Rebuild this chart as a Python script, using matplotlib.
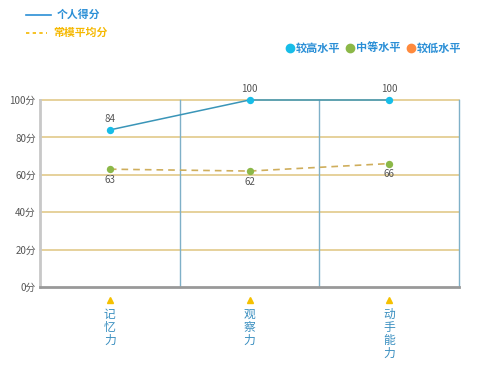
import matplotlib
matplotlib.use('Agg')
import matplotlib.pyplot as plt
from matplotlib.lines import Line2D

plt.rcParams['font.family'] = ['Noto Sans CJK SC', 'DejaVu Sans']

categories = ['记忆力', '观察力', '动手能力']
personal = [84, 100, 100]
norm = [63, 62, 66]
y_ticks = [0, 20, 40, 60, 80, 100]
y_labels = ['0分', '20分', '40分', '60分', '80分', '100分']
level_names = ['较高水平', '中等水平', '较低水平']
level_colors = ['#17bde8', '#8cb848', '#ff8a3d']


def main():
    fig = plt.figure(figsize=(4.85, 3.72), dpi=100)
    ax = fig.add_axes([40 / 485, 1 - 287 / 372, 419 / 485, 187 / 372])

    xs = [i + 0.5 for i in range(len(categories))]
    ax.set_xlim(0, len(categories))
    ax.set_ylim(0, 100)

    # gold horizontal grid
    for t in y_ticks[1:]:
        ax.axhline(t, color='#e2c98a', lw=1.2, zorder=1, clip_on=False)
    # blue separators
    for i in range(1, len(categories) + 1):
        ax.axvline(i, color='#7fb0c8', lw=1.0, zorder=1, clip_on=False)

    ax.plot(xs, personal, color='#3a95b8', lw=1.1, zorder=3, clip_on=False)
    ax.plot(xs, norm, color='#cfae5c', lw=1.2, ls=(0, (4, 3)), zorder=3)
    ax.scatter(xs, personal, s=28, color=level_colors[0], zorder=4, lw=0,
               clip_on=False)
    ax.scatter(xs, norm, s=28, color=level_colors[1], zorder=4, lw=0)

    for x, v in zip(xs, personal):
        ax.annotate(str(v), (x, v), xytext=(0, 4), textcoords='offset points',
                    ha='center', va='bottom', fontsize=7, color='#555555')
    for x, v in zip(xs, norm):
        ax.annotate(str(v), (x, v), xytext=(0, -4), textcoords='offset points',
                    ha='center', va='top', fontsize=7, color='#555555')

    ax.set_yticks(y_ticks)
    ax.set_yticklabels(y_labels, fontsize=7, color='#555555')
    ax.tick_params(axis='y', length=0, pad=3)
    ax.set_xticks([])
    for s in ['top', 'right']:
        ax.spines[s].set_visible(False)
    ax.spines['left'].set_color('#c8c8c8')
    ax.spines['left'].set_linewidth(2)
    ax.spines['bottom'].set_color('#999999')
    ax.spines['bottom'].set_linewidth(2)

    # x category labels: triangle + vertical text
    for x, name in zip(xs, categories):
        ax.plot([x], [-7], marker='^', color='#f5c000', ms=5,
                clip_on=False, zorder=5)
        ax.text(x, -11, '\n'.join(name), ha='center', va='top', fontsize=8.5,
                color='#3a8fc0', fontweight='medium', linespacing=1.0,
                clip_on=False)

    # top-left legend
    fig.add_artist(Line2D([26 / 485, 51 / 485], [1 - 15 / 372] * 2,
                          color='#2b8fd6', lw=1.2))
    fig.text(57 / 485, 1 - 15 / 372, '个人得分', fontsize=7.8, color='#2b8fd6',
             fontweight='bold', va='center')
    fig.add_artist(Line2D([26 / 485, 47 / 485], [1 - 33 / 372] * 2,
                          color='#f5b800', lw=1.2, ls=(0, (2, 2))))
    fig.text(53 / 485, 1 - 33 / 372, '常模平均分', fontsize=7.8, color='#f5b800',
             fontweight='bold', va='center')

    # top-right level legend
    pos = [290, 350, 411]
    for px, name, c in zip(pos, level_names, level_colors):
        fig.add_artist(Line2D([px / 485], [1 - 48 / 372], marker='o', color=c,
                              ms=6, lw=0))
        fig.text((px + 6) / 485, 1 - 48 / 372, name, fontsize=8,
                 color='#2b8fd6', fontweight='bold', va='center')

    fig.savefig('out.png', dpi=100)


if __name__ == "__main__":
    main()
